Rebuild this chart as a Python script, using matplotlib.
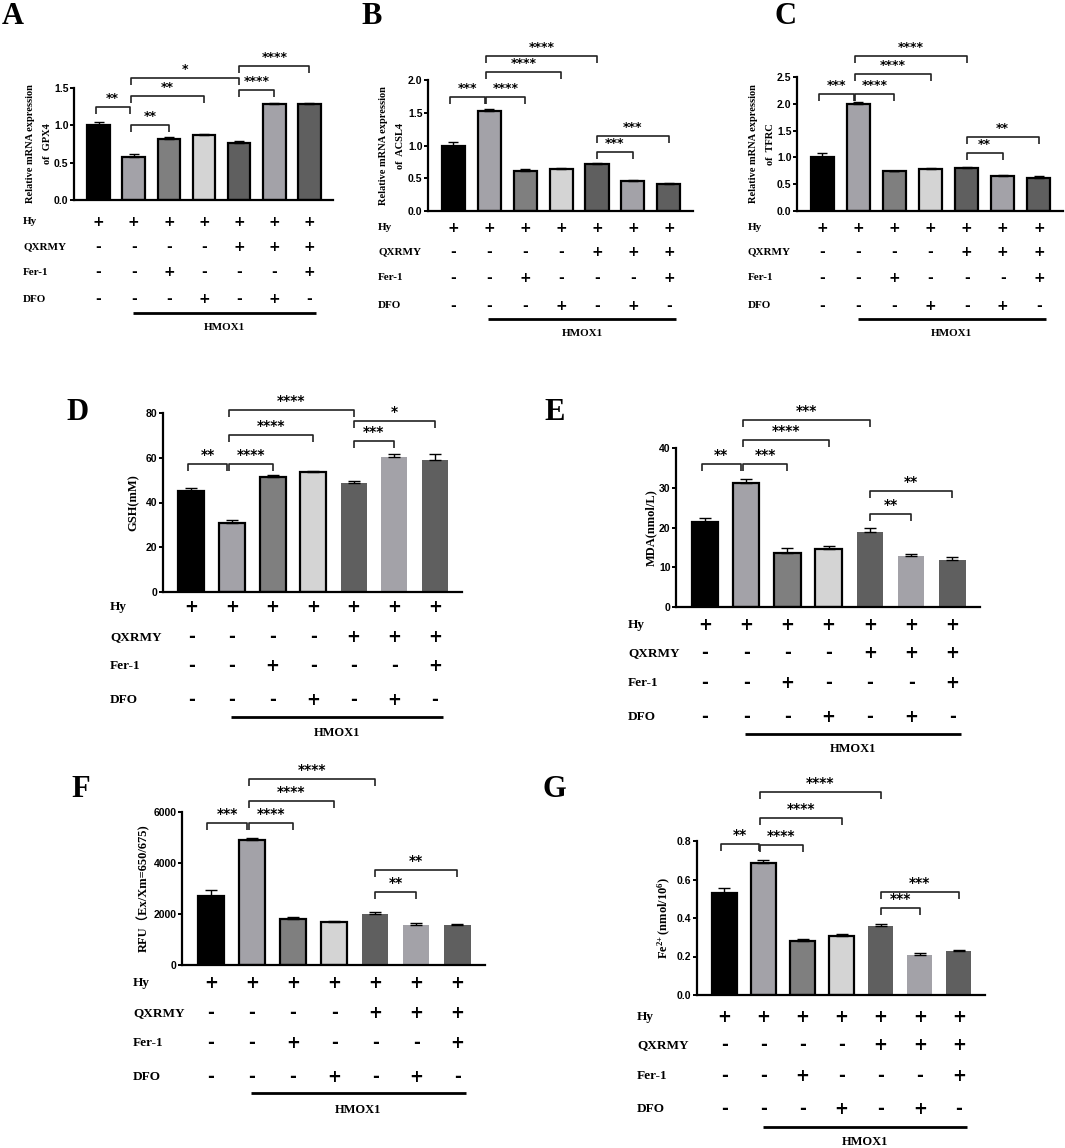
import matplotlib
matplotlib.use('Agg')
import matplotlib.pyplot as plt
import numpy as np

W, H, DPI = 1065, 1148, 100
plt.rcParams['font.family'] = ['Liberation Sans', 'DejaVu Sans']
plt.rcParams['mathtext.fontset'] = 'custom'
plt.rcParams['mathtext.rm'] = 'Liberation Serif:bold'
plt.rcParams['mathtext.bf'] = 'Liberation Serif:bold'
plt.rcParams['mathtext.it'] = 'Liberation Serif:bold:italic'

# ---------------- data ----------------
row_names = ['Hy', 'QXRMY', 'Fer-1', 'DFO']
hy_row = ['+', '+', '+', '+', '+', '+', '+']
qxrmy_row = ['-', '-', '-', '-', '+', '+', '+']
fer1_row = ['-', '-', '+', '-', '-', '-', '+']
dfo_row = ['-', '-', '-', '+', '-', '+', '-']
group_label = 'HMOX1'

bar_colors = ['#000000', '#a3a2a8', '#7f7f7f', '#d4d4d4', '#5f5f5f', '#a3a2a8', '#5f5f5f']

gpx4_mean = [1.00, 0.57, 0.82, 0.875, 0.765, 1.28, 1.285]
gpx4_err = [0.04, 0.04, 0.02, 0.015, 0.02, 0.02, 0.012]
gpx4_sig = [(0, 1, '**', 1.24), (1, 2, '**', 1.00), (1, 3, '**', 1.39),
            (1, 4, '*', 1.64), (4, 5, '****', 1.47), (4, 6, '****', 1.80)]

acsl4_mean = [1.00, 1.53, 0.615, 0.645, 0.715, 0.46, 0.405]
acsl4_err = [0.05, 0.02, 0.02, 0.015, 0.02, 0.015, 0.025]
acsl4_sig = [(0, 1, '***', 1.74), (1, 2, '****', 1.74), (1, 3, '****', 2.12),
             (1, 4, '****', 2.37), (4, 5, '***', 0.90), (4, 6, '***', 1.15)]

tfrc_mean = [1.00, 1.99, 0.74, 0.79, 0.81, 0.645, 0.625]
tfrc_err = [0.09, 0.05, 0.01, 0.01, 0.01, 0.03, 0.03]
tfrc_sig = [(0, 1, '***', 2.18), (1, 2, '****', 2.18), (1, 3, '****', 2.56),
            (1, 4, '****', 2.89), (4, 5, '**', 1.08), (4, 6, '**', 1.38)]

gsh_mean = [45.0, 31.0, 51.5, 53.5, 48.8, 60.5, 59.2]
gsh_err = [1.5, 1.0, 0.8, 0.8, 0.6, 1.2, 2.3]
gsh_sig = [(0, 1, '**', 57.2), (1, 2, '****', 57.2), (1, 3, '****', 70.3),
           (1, 4, '****', 81.5), (4, 5, '***', 67.4), (4, 6, '*', 76.3)]

mda_mean = [21.5, 31.2, 13.7, 14.7, 18.8, 12.8, 11.8]
mda_err = [1.0, 0.9, 1.1, 0.7, 1.0, 0.6, 0.8]
mda_sig = [(0, 1, '**', 36.0), (1, 2, '***', 36.0), (1, 3, '****', 41.9),
           (1, 4, '***', 47.0), (4, 5, '**', 23.3), (4, 6, '**', 29.2)]

rfu_mean = [2700, 4900, 1800, 1680, 2000, 1580, 1550]
rfu_err = [230, 80, 70, 60, 90, 60, 60]
rfu_sig = [(0, 1, '***', 5570), (1, 2, '****', 5570), (1, 3, '****', 6450),
           (1, 4, '****', 7310), (4, 5, '**', 2880), (4, 6, '**', 3730)]

fe_mean = [0.53, 0.685, 0.278, 0.307, 0.358, 0.21, 0.228]
fe_err = [0.025, 0.015, 0.012, 0.008, 0.01, 0.006, 0.007]
fe_sig = [(0, 1, '**', 0.783), (1, 2, '****', 0.778), (1, 3, '****', 0.918),
          (1, 4, '****', 1.056), (4, 5, '***', 0.45), (4, 6, '***', 0.537)]

# ---------------- layout ----------------
fig = plt.figure(figsize=(W / DPI, H / DPI), dpi=DPI)
SERIF = ['Liberation Serif', 'DejaVu Serif']
SERIF_CJK = ['Liberation Serif', 'Noto Sans CJK SC', 'DejaVu Sans']


def fx(x):
    return x / W


def fy(y):
    return 1 - y / H


panels = [
    dict(letter='A', lpos=(2, 24), box=(74, 333, 88, 200), ymax=1.5, step=0.5, fmt='{:.1f}',
         mean=gpx4_mean, err=gpx4_err, sig=gpx4_sig, ylabel='Relative mRNA expression\nof  GPX4',
         ylx=52, rows=[222, 247, 272, 299], line=313, hm=328, rlx=23, edges_all=True, big=False),
    dict(letter='B', lpos=(361, 24), box=(428, 693, 80, 211), ymax=2.0, step=0.5, fmt='{:.1f}',
         mean=acsl4_mean, err=acsl4_err, sig=acsl4_sig, ylabel='Relative mRNA expression\nof  ACSL4',
         ylx=405, rows=[228, 252, 278, 306], line=319, hm=334, rlx=378, edges_all=True, big=False),
    dict(letter='C', lpos=(774, 24), box=(797, 1063, 77, 211), ymax=2.5, step=0.5, fmt='{:.1f}',
         mean=tfrc_mean, err=tfrc_err, sig=tfrc_sig, ylabel='Relative mRNA expression\nof  TFRC',
         ylx=775, rows=[228, 252, 278, 306], line=319, hm=334, rlx=748, edges_all=True, big=False),
    dict(letter='D', lpos=(66, 420), box=(163, 462, 413, 592), ymax=80, step=20, fmt='{:.0f}',
         mean=gsh_mean, err=gsh_err, sig=gsh_sig, ylabel='GSH(mM)',
         ylx=140, rows=[607, 637, 666, 700], line=717, hm=733, rlx=110, edges_all=False, big=True),
    dict(letter='E', lpos=(544, 420), box=(676, 980, 448, 607), ymax=40, step=10, fmt='{:.0f}',
         mean=mda_mean, err=mda_err, sig=mda_sig, ylabel='MDA(nmol/L)',
         ylx=657, rows=[625, 653, 683, 717], line=734, hm=749, rlx=628, edges_all=False, big=True),
    dict(letter='F', lpos=(71, 797), box=(182, 485, 812, 965), ymax=6000, step=2000, fmt='{:.0f}',
         mean=rfu_mean, err=rfu_err, sig=rfu_sig, ylabel='RFU\uff08Ex/Xm=650/675)',
         ylx=150, rows=[983, 1013, 1043, 1077], line=1093, hm=1110, rlx=133, edges_all=False, big=True),
    dict(letter='G', lpos=(542, 797), box=(697, 985, 841, 995), ymax=0.8, step=0.2, fmt='{:.1f}',
         mean=fe_mean, err=fe_err, sig=fe_sig, ylabel=r'Fe$^{2\!+}$(nmol/10$^{6}$)',
         ylx=673, rows=[1017, 1045, 1076, 1109], line=1127, hm=1142, rlx=637, edges_all=False, big=True),
]

table_rows = [hy_row, qxrmy_row, fer1_row, dfo_row]

for p in panels:
    l, r, t, b = p['box']
    ax = fig.add_axes([fx(l), fy(b), fx(r - l), (b - t) / H])
    n = len(p['mean'])
    x = np.arange(n)
    big = p['big']
    for i in range(n):
        has_edge = p['edges_all'] or i < 4
        ax.bar(x[i], p['mean'][i], width=0.64, color=bar_colors[i],
               edgecolor='black' if has_edge else bar_colors[i],
               linewidth=1.6 if has_edge else 0, zorder=2)
    ax.errorbar(x, p['mean'], yerr=[np.zeros(n), p['err']], fmt='none', ecolor='black',
                elinewidth=1.0, capsize=4.5 if big else 3.5, capthick=1.0, zorder=3)
    ax.set_xlim(-0.7, n - 1 + 0.67)
    ax.set_ylim(0, p['ymax'])
    ticks = np.arange(0, p['ymax'] + p['step'] / 2, p['step'])
    ax.set_yticks(ticks)
    ax.set_yticklabels([p['fmt'].format(v) for v in ticks], fontsize=7.5, fontweight='bold')
    ax.set_xticks([])
    for s in ['top', 'right']:
        ax.spines[s].set_visible(False)
    for s in ['left', 'bottom']:
        ax.spines[s].set_linewidth(1.6)
    ax.tick_params(axis='y', length=3, width=1.4, pad=1.0)
    ax.set_ylabel(p['ylabel'], fontsize=9 if big else 7.5, fontweight='bold',
                  family=SERIF_CJK, linespacing=2.1)
    ax.yaxis.set_label_coords((p['ylx'] - l) / (r - l), 0.5)

    # significance brackets
    ppu = (b - t) / p['ymax']
    drop = 7 / ppu
    for (i1, i2, stars, yb) in p['sig']:
        xa = i1 - 0.08 if i2 == 1 else (i1 - 0.08 if i1 == 1 else i1)
        xb = i2 - 0.12 if i2 == 1 else i2
        ax.plot([xa, xa, xb, xb], [yb - drop, yb, yb, yb - drop], color='#222222',
                lw=1.2, clip_on=False, solid_capstyle='butt', zorder=4)
        ax.text((xa + xb) / 2, yb + 2 / ppu, stars, ha='center', va='bottom',
                fontsize=10 if big else 9, fontweight='bold', family='DejaVu Sans',
                clip_on=False)

    # condition table
    tr = ax.get_xaxis_transform()
    for ri, (name, vals) in enumerate(zip(row_names, table_rows)):
        yrow = -(p['rows'][ri] - b) / (b - t)
        fig.text(fx(p['rlx']), fy(p['rows'][ri]), name, ha='left', va='center',
                 fontsize=9.5 if big else 8, fontweight='bold', family=SERIF)
        for i, v in enumerate(vals):
            ax.text(x[i], yrow, v, transform=tr, ha='center', va='center',
                    fontsize=12 if big else 10, fontweight='bold', family='DejaVu Sans',
                    clip_on=False)
    yline = -(p['line'] - b) / (b - t)
    ax.plot([0.98, 6.2], [yline, yline], transform=tr, color='black', lw=2.0,
            clip_on=False, solid_capstyle='butt')
    yhm = -(p['hm'] - b) / (b - t)
    ax.text((0.98 + 6.2) / 2, yhm, group_label, transform=tr, ha='center', va='center',
            fontsize=9 if big else 8, fontweight='bold', family=SERIF, clip_on=False)

    fig.text(fx(p['lpos'][0]), fy(p['lpos'][1]), p['letter'], ha='left', va='baseline',
             fontsize=22, fontweight='bold', family=SERIF)

fig.savefig('out.png', dpi=DPI)
